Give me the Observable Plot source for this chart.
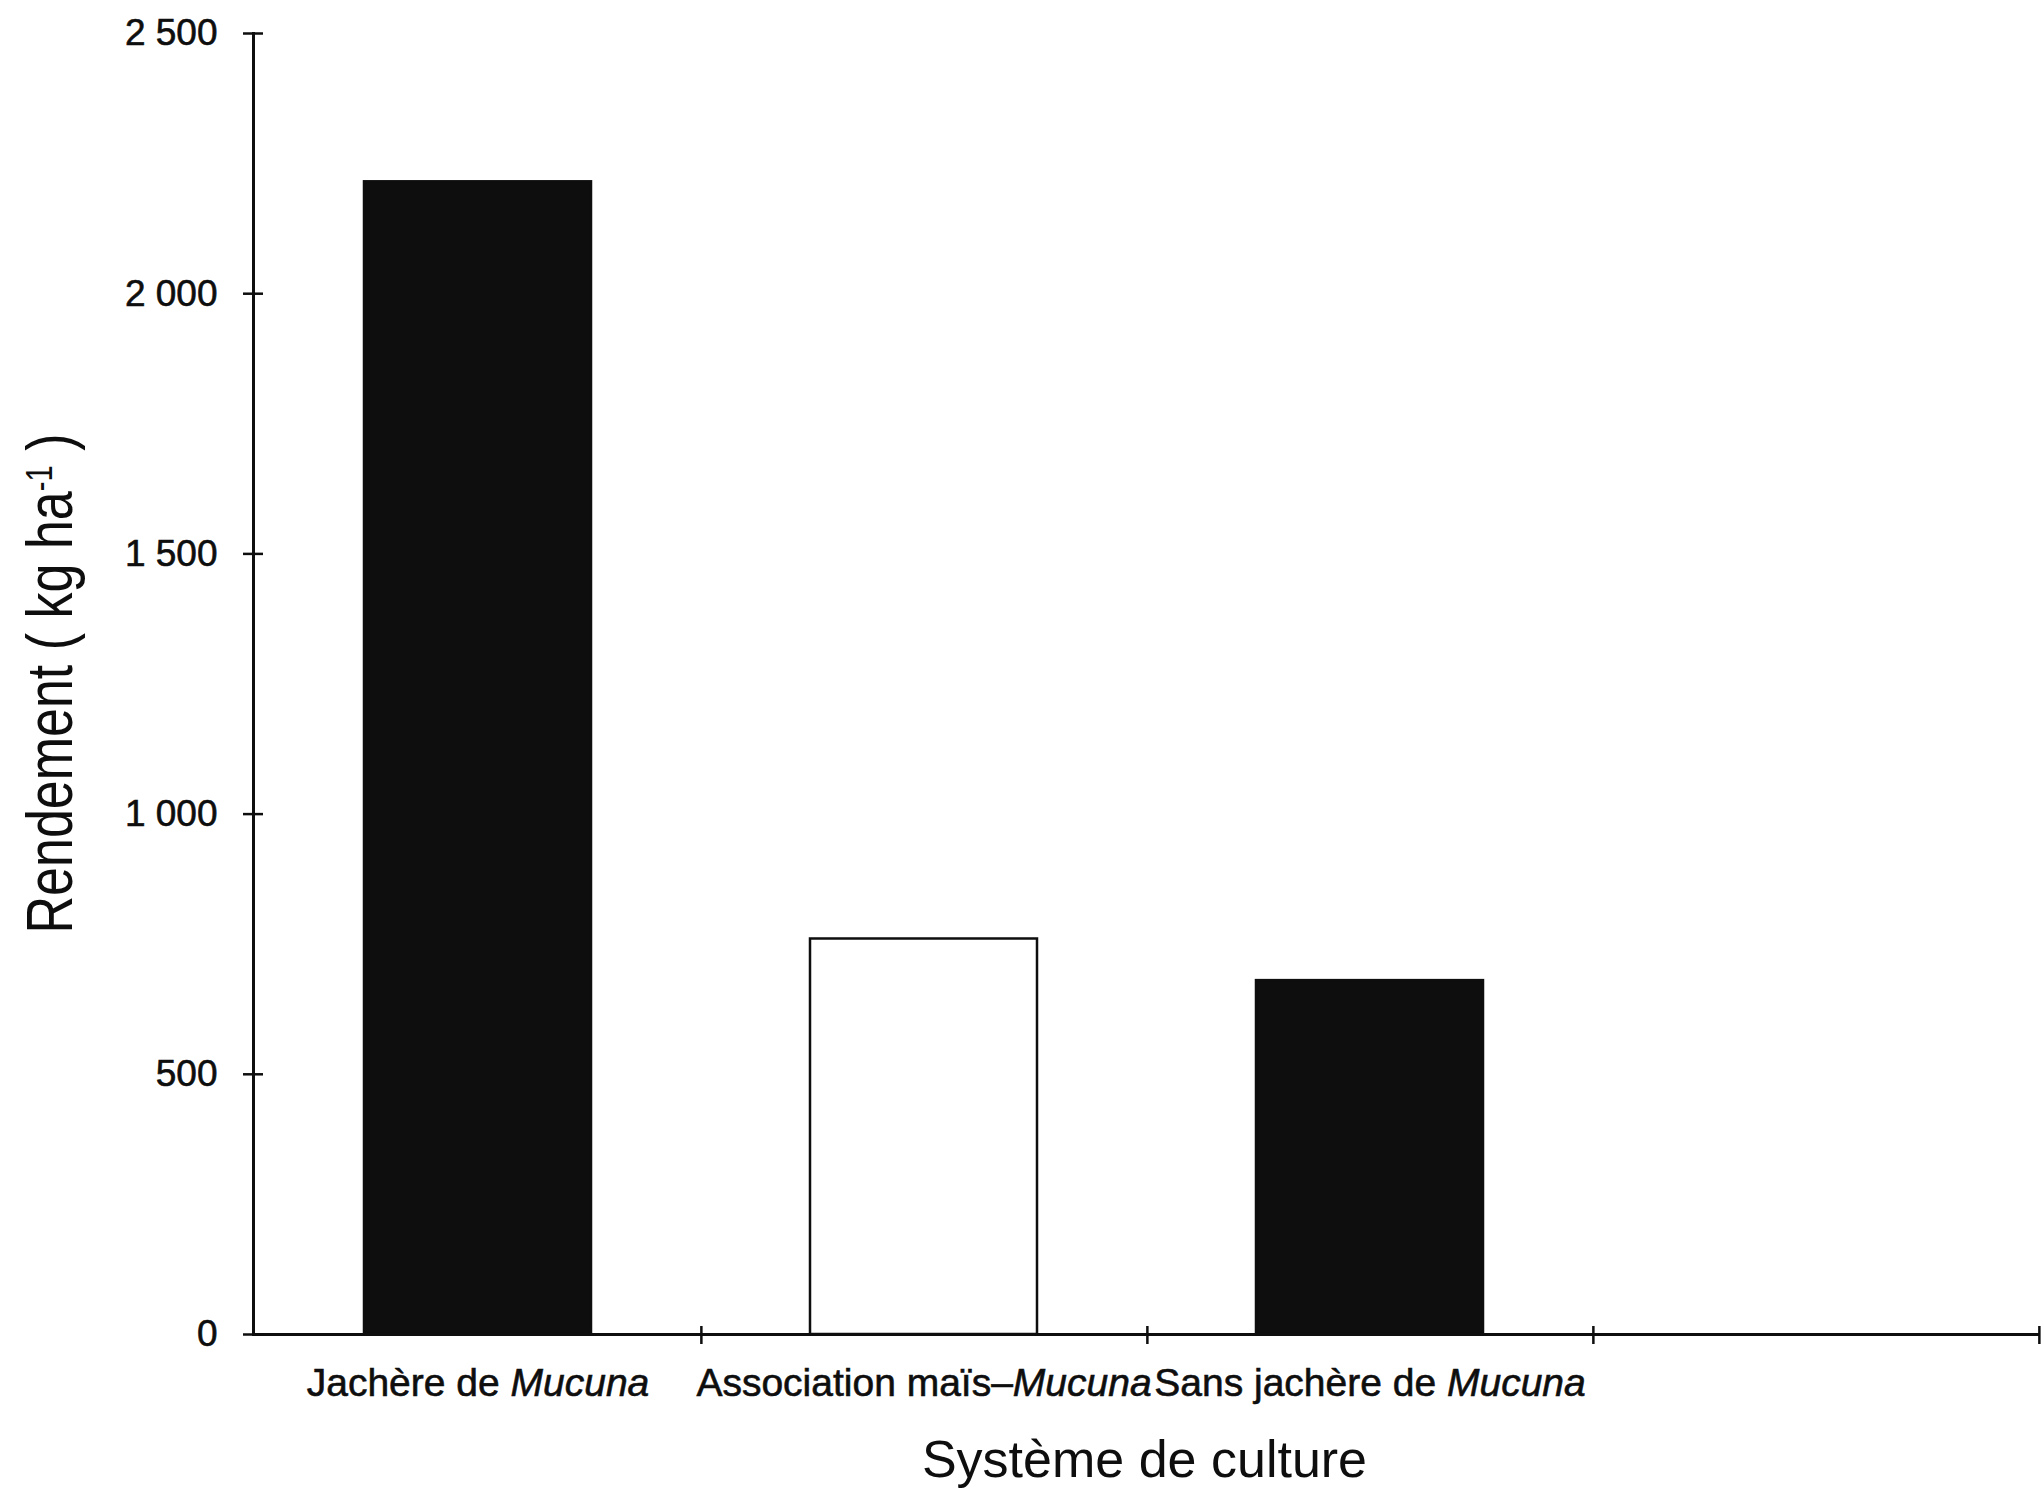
<!DOCTYPE html>
<html>
<head>
<meta charset="utf-8">
<script src="https://cdn.jsdelivr.net/npm/d3@7"></script>
<script src="https://cdn.jsdelivr.net/npm/@observablehq/plot@0.6"></script>
<style>
  html, body { margin: 0; padding: 0; background: #ffffff; }
  svg { display: block; }
</style>
</head>
<body>
<div id="chart"></div>
<script>
// ---- data ----
const systems = ["Jachère de Mucuna", "Association maïs–Mucuna", "Sans jachère de Mucuna"];
const rendement = [2215, 760, 680];
const emptySlot = [""];            // empty fourth category on the x axis
const yTicks = [0, 500, 1000, 1500, 2000, 2500];
const yTitleMain = "Rendement ( kg ha";
const yTitleSup = "-1";
const yTitleEnd = " )";
const xTitle = "Système de culture";
const italicWord = "Mucuna";

// ---- layout ----
const W = 2044, H = 1495;
const mL = 253, mR = 4, mT = 33, mB = 161;
const FONT = "'Liberation Sans', Arial, Helvetica, sans-serif";
const INK = "#0e0e0e";

const data = systems.map((s, i) => ({system: s, value: rendement[i]}));
const xDomain = [...systems, ...emptySlot];
const step = (W - mL - mR) / xDomain.length;
const fmt = d3.formatLocale({decimal: ",", thousands: " ", grouping: [3], currency: ["", ""]}).format(",d");

const chart = Plot.plot({
  width: W,
  height: H,
  marginLeft: mL,
  marginRight: mR,
  marginTop: mT,
  marginBottom: mB,
  style: {fontFamily: FONT, background: "#ffffff", color: INK},
  x: {domain: xDomain, paddingInner: 0.49, paddingOuter: 0.245, label: null},
  y: {domain: [0, 2500], label: null},
  color: {domain: systems, range: [INK, "#ffffff", INK]},
  marks: [
    Plot.barY(data, {x: "system", y: "value", fill: "system", stroke: INK, strokeWidth: 2.5}),
    Plot.frame({anchor: "left", stroke: INK, strokeWidth: 3}),
    Plot.ruleY([0], {stroke: INK, strokeWidth: 3}),
    Plot.axisY(yTicks, {tickSize: 10, tickPadding: 26, tickFormat: fmt, fontSize: 37, strokeWidth: 2.5, label: null}),
    Plot.axisY(yTicks, {tickSize: 10, dx: 10, tickFormat: () => "", strokeWidth: 2.5, label: null}),
    Plot.axisX({tickSize: 0, tickPadding: 34, fontSize: 39, label: null}),
    Plot.axisX({tickSize: 10, dx: step / 2, tickFormat: () => "", strokeWidth: 2.5, label: null}),
    Plot.axisX({tickSize: 8, dx: step / 2, dy: -8, tickFormat: () => "", strokeWidth: 2.5, label: null})
  ]
});

document.getElementById("chart").appendChild(chart);
const svg = d3.select(chart);

// heavier ink on tick labels, like the printed original
svg.selectAll('g[aria-label="x-axis tick label"] text, g[aria-label="y-axis tick label"] text')
  .attr("stroke", INK).attr("stroke-width", 0.6);

// italicise the genus name inside the x tick labels
svg.selectAll('g[aria-label="x-axis tick label"] text').each(function () {
  const t = this.textContent;
  if (!t) return;
  const idx = t.indexOf(italicWord);
  if (idx < 0) return;
  const sel = d3.select(this);
  sel.text(null);
  sel.append("tspan").text(t.slice(0, idx));
  sel.append("tspan").attr("font-style", "italic").text(italicWord);
  if (idx + italicWord.length < t.length) sel.append("tspan").text(t.slice(idx + italicWord.length));
});

// x axis title
svg.append("text")
  .attr("x", mL + (W - mL - mR) / 2 - 2)
  .attr("y", H - 18)
  .attr("text-anchor", "middle")
  .attr("font-family", FONT)
  .attr("font-size", 52)
  .attr("fill", INK)
  .text(xTitle);

// y axis title with superscript
const yt = svg.append("text")
  .attr("transform", `translate(72, ${(mT + (H - mB)) / 2}) rotate(-90)`)
  .attr("text-anchor", "middle")
  .attr("font-family", FONT)
  .attr("font-size", 64)
  .attr("fill", INK)
  .attr("textLength", 500)
  .attr("lengthAdjust", "spacingAndGlyphs");
yt.append("tspan").text(yTitleMain);
yt.append("tspan").attr("baseline-shift", "super").attr("font-size", 36).text(yTitleSup);
yt.append("tspan").text(yTitleEnd);
</script>
</body>
</html>
